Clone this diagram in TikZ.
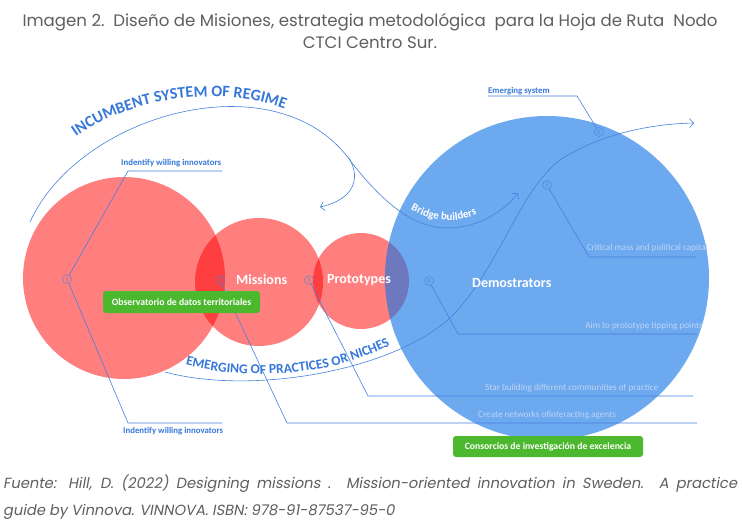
\documentclass[tikz,border=0pt]{standalone}
\usepackage{fontspec}
\setmainfont{Carlito}
\newfontfamily\titlefont{Poppins}
\newfontfamily\footfont[FakeSlant=0.18]{Poppins}
\usetikzlibrary{decorations.text,arrows.meta}
\definecolor{bluefill}{RGB}{17,116,230}
\definecolor{lineblue}{RGB}{70,128,222}
\definecolor{textblue}{RGB}{55,120,218}
\definecolor{faint}{RGB}{190,212,245}
\definecolor{greenc}{RGB}{76,184,46}
\definecolor{graytext}{RGB}{95,95,95}
\begin{document}
\begin{tikzpicture}[x=1pt,y=-1pt,
  conn/.style={draw=lineblue, line width=0.6pt},
  marker/.style={circle, draw=lineblue, draw opacity=0.8, line width=0.5pt, inner sep=0pt, minimum size=9pt, text=lineblue, text opacity=0.8, font=\fontsize{7}{7}\selectfont},
  lab/.style={text=textblue, font=\fontsize{8.8}{9}\selectfont\bfseries, inner sep=0pt},
  faintlab/.style={text=faint, font=\fontsize{9.2}{9.5}\selectfont, inner sep=0pt},
  bigtext/.style={text=white, font=\fontsize{14}{14}\selectfont\bfseries, inner sep=0pt},
  gbox/.style={fill=greenc, rounded corners=3pt, text=white, font=\fontsize{9.7}{10}\selectfont\bfseries, inner sep=0pt},
  redcirc/.style={circle, fill=red, fill opacity=0.5, inner sep=0pt},
  bluecirc/.style={circle, fill=bluefill, fill opacity=0.61, inner sep=0pt},
  arr/.style={-{Straight Barb[length=4pt,width=9pt]}},
]
\useasboundingbox (0,0) rectangle (742,525);
\fill[white] (0,0) rectangle (742,525);

% title
\node[text=graytext, font=\titlefont\fontsize{16.6}{22}\selectfont, align=center, inner sep=0pt] (title) at (370,31)
  {Imagen 2.\ \ Diseño de Misiones, estrategia metodológica\ \ para la Hoja de Ruta\ \ Nodo\\CTCI Centro Sur.};

% circles
\node[redcirc, minimum size=202pt] (c1) at (124,278) {};
\node[redcirc, minimum size=128pt] (c2) at (259,282) {};
\node[redcirc, minimum size=96pt] (c3) at (361,281) {};
\node[bluecirc, minimum size=324pt] (c4) at (547,278) {};

% incumbent arc
\coordinate (ia) at (30,222);
\coordinate (ib) at (352,163);
\coordinate (ic) at (447,228);
\coordinate (id) at (518,193);
\draw[conn, arr] (ia) .. controls (80,112) and (280,58) .. (ib)
   .. controls (385,205) and (415,228) .. (ic)
   .. controls (478,228) and (503,212) .. (id);
\coordinate (ha) at (349,158);
\coordinate (hb) at (320,207);
\draw[conn, arr] (ha) .. controls (362,180) and (352,200) .. (hb);

% emerging S-curve
\coordinate (sa) at (165,372);
\coordinate (sb) at (450,318);
\coordinate (sc) at (560,160);
\coordinate (sd) at (694,123);
\draw[conn, arr] (sa) .. controls (250,395) and (390,372) .. (sb)
   .. controls (500,268) and (518,192) .. (sc)
   .. controls (600,134) and (650,124) .. (sd);

% curved texts
\path[decorate, decoration={text along path, text align=center,
  text={|\fontsize{16}{16}\selectfont\bfseries\color{textblue}|INCUMBENT SYSTEM OF REGIME}}]
  (68,143) .. controls (120,100) and (220,80) .. (294,113);
\path[decorate, decoration={text along path, text align=center,
  text={|\fontsize{13.6}{14}\selectfont\bfseries\color{textblue}|EMERGING OF PRACTICES OR NICHES}}]
  (179,363) .. controls (240,381) and (330,379) .. (396,342);
\path[decorate, decoration={text along path, text align=center,
  text={|\fontsize{11}{11}\selectfont\bfseries\color{white}|Bridge builders}}]
  (404,206) .. controls (430,222) and (455,226) .. (484,211);

% markers
\node[marker] (m1) at (67,279) {1};
\node[marker] (m2) at (220,280) {2};
\node[marker] (m3) at (309,280) {3};
\node[marker] (m4) at (429,281) {4};
\node[marker] (m5) at (547,185) {5};
\node[marker] (m6) at (599,132) {6};

% leader lines
\coordinate (k1a) at (128,171); \coordinate (e1a) at (222,171);
\coordinate (k1b) at (128,423); \coordinate (e1b) at (222,423);
\coordinate (k2) at (287,423); \coordinate (e2) at (697,423);
\coordinate (k3) at (368,396); \coordinate (e3) at (693,396);
\coordinate (k4) at (458,334); \coordinate (e4) at (697,334);
\coordinate (k5) at (589,257); \coordinate (e5) at (696,257);
\coordinate (k6) at (577,96);  \coordinate (e6) at (488,96);
\draw[conn] (m1) -- (k1a) -- (e1a);
\draw[conn] (m1) -- (k1b) -- (e1b);
\draw[conn] (m2) -- (k2) -- (e2);
\draw[conn] (m3) -- (k3) -- (e3);
\draw[conn] (m4) -- (k4) -- (e4);
\draw[conn] (m5) -- (k5) -- (e5);
\draw[conn] (m6) -- (k6) -- (e6);

% labels
\node[lab, anchor=base west] (l1a) at (121,165) {Indentify willing innovators};
\node[lab, anchor=base west] (l1b) at (123,433) {Indentify willing innovators};
\node[lab, anchor=base west] (l6) at (488,93) {Emerging system};
\node[faintlab, anchor=base east] (l5) at (708,250) {Critical mass and political capital};
\node[faintlab, anchor=base east] (l4) at (703,328) {Aim to prototype tipping points};
\node[faintlab, anchor=base west] (l3) at (485,390) {Star building different communities of practice};
\node[faintlab, anchor=base west] (l2) at (478,417) {Create networks ofinteracting agents};

\node[bigtext, anchor=west] (t2) at (236,280) {Missions};
\node[bigtext, anchor=west] (t3) at (327,280) {Prototypes};
\node[bigtext, anchor=west] (t4) at (472,283) {Demostrators};

% green boxes
\node[gbox, minimum width=157pt, minimum height=22pt] (g1) at (181.5,302) {Observatorio de datos territoriales};
\node[gbox, minimum width=190pt, minimum height=21pt] (g2) at (548,446.5) {Consorcios de investigación de excelencia};

% footer
\node[text=graytext, font=\footfont\fontsize{14.7}{16}\selectfont, inner sep=0pt, anchor=base west] (f1) at (3,488)
  {\makebox[734pt][s]{Fuente: Hill, D. (2022) Designing missions . Mission-oriented innovation in Sweden. A practice}};
\node[text=graytext, font=\footfont\fontsize{14.7}{16}\selectfont, inner sep=0pt, anchor=base west] (f2) at (3,515)
  {guide by Vinnova. VINNOVA. ISBN: 978-91-87537-95-0};
\end{tikzpicture}
\end{document}
